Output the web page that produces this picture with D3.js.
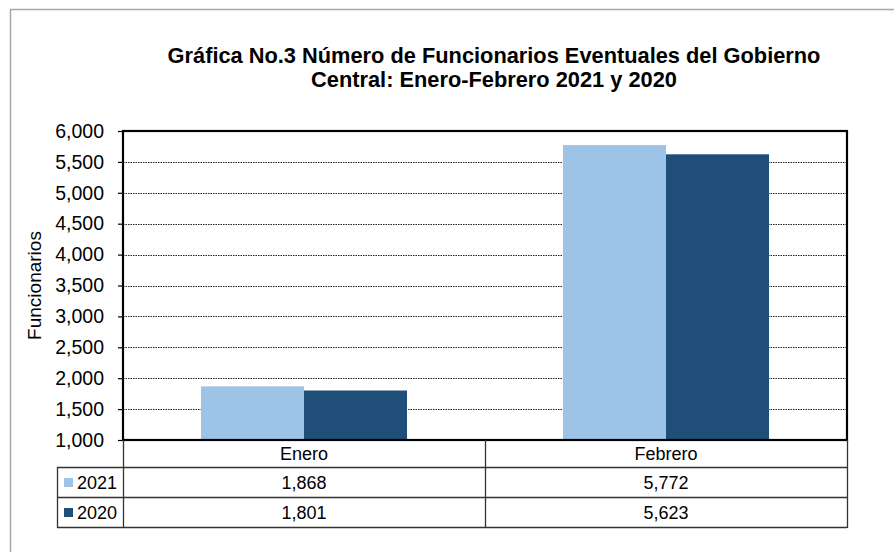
<!DOCTYPE html>
<html>
<head>
<meta charset="utf-8">
<script src="https://cdn.jsdelivr.net/npm/d3@7"></script>
<style>
  html, body { margin: 0; padding: 0; background: #fff; }
  svg { display: block; font-family: "Liberation Sans", Arial, sans-serif; }
</style>
</head>
<body>
<svg id="chart" width="894" height="552"></svg>
<script>
// ---- data ----
const titleLines = ["Gráfica No.3 Número de Funcionarios Eventuales del Gobierno", "Central: Enero-Febrero 2021 y 2020"];
const yAxisTitle = "Funcionarios";
const categories = ["Enero", "Febrero"];
const seriesNames = ["2021", "2020"];
const values2021 = [1868, 5772];
const values2020 = [1801, 5623];
const seriesColors = ["#9DC3E6", "#1F4E79"];
const yTicks = [1000, 1500, 2000, 2500, 3000, 3500, 4000, 4500, 5000, 5500, 6000];

const seriesValues = [values2021, values2020];

// ---- layout ----
const svg = d3.select("#chart");
const plot = { left: 123, right: 847, top: 131, bottom: 440 };
const tableRows = [440, 467, 497, 527];
const tableLeft = 57;

const x = d3.scaleBand().domain(categories).range([plot.left, plot.right]).padding(0);
const xs = d3.scaleBand().domain(seriesNames).range([0, x.bandwidth()]).paddingInner(0).paddingOuter(0.757);
const y = d3.scaleLinear().domain([1000, 6000]).range([plot.bottom, plot.top]);
const fmt = d3.format(",");

// outer border
svg.append("rect").attr("x", 10.5).attr("y", 9.5).attr("width", 1000).attr("height", 1000)
  .attr("fill", "none").attr("stroke", "#A6A6A6").attr("stroke-width", 1.5);

// title
svg.append("g").selectAll("text").data(titleLines).join("text")
  .attr("x", 494).attr("y", (d, i) => 63 + i * 24)
  .attr("text-anchor", "middle").attr("font-weight", "bold").attr("font-size", 21.8)
  .attr("fill", "#000").text(d => d);

// gridlines
svg.append("g").selectAll("line").data(yTicks.filter(t => t > 1000 && t < 6000)).join("line")
  .attr("x1", plot.left).attr("x2", plot.right)
  .attr("y1", d => Math.round(y(d)) + 0.5).attr("y2", d => Math.round(y(d)) + 0.5)
  .attr("stroke", "#222").attr("stroke-width", 1).attr("stroke-dasharray", "1.5,1");

// bars
const barG = svg.append("g");
seriesNames.forEach((s, si) => {
  barG.append("g").selectAll("rect").data(categories).join("rect")
    .attr("x", c => x(c) + xs(s))
    .attr("width", xs.bandwidth())
    .attr("y", (c, ci) => y(seriesValues[si][ci]))
    .attr("height", (c, ci) => y(1000) - y(seriesValues[si][ci]))
    .attr("fill", seriesColors[si]);
});

// y axis
const yAxis = d3.axisLeft(y).tickValues(yTicks).tickFormat(fmt).tickSize(5).tickPadding(14);
const yg = svg.append("g").attr("transform", `translate(${plot.left},0)`).call(yAxis);
yg.select(".domain").remove();
yg.selectAll(".tick line").attr("stroke", "#000").attr("stroke-width", 1.2);
yg.selectAll(".tick text").attr("font-size", 19.5).attr("fill", "#000")
  .attr("font-family", "'Liberation Sans', Arial, sans-serif");

// y axis title
svg.append("text")
  .attr("transform", `translate(41,${(plot.top + plot.bottom) / 2}) rotate(-90)`)
  .attr("text-anchor", "middle").attr("font-size", 19).attr("fill", "#000")
  .text(yAxisTitle);

// plot frame
svg.append("rect").attr("x", plot.left).attr("y", plot.top)
  .attr("width", plot.right - plot.left).attr("height", plot.bottom - plot.top)
  .attr("fill", "none").attr("stroke", "#000").attr("stroke-width", 2.2);

// data table
const tg = svg.append("g");
const lineColor = "#333";
tg.selectAll("line.h").data(tableRows.slice(1)).join("line")
  .attr("x1", tableLeft).attr("x2", plot.right)
  .attr("y1", d => d + 0.5).attr("y2", d => d + 0.5)
  .attr("stroke", lineColor).attr("stroke-width", 1.3);
const vlines = [plot.left, ...categories.slice(1).map(c => x(c)), plot.right];
tg.selectAll("line.v").data(vlines).join("line")
  .attr("x1", d => d + 0.5).attr("x2", d => d + 0.5)
  .attr("y1", tableRows[0]).attr("y2", tableRows[3] + 1)
  .attr("stroke", lineColor).attr("stroke-width", 1.3);
tg.append("line").attr("x1", tableLeft + 0.5).attr("x2", tableLeft + 0.5)
  .attr("y1", tableRows[1]).attr("y2", tableRows[3] + 1)
  .attr("stroke", lineColor).attr("stroke-width", 1.3);

tg.selectAll("text.cat").data(categories).join("text")
  .attr("x", c => x(c) + x.bandwidth() / 2).attr("y", 460)
  .attr("text-anchor", "middle").attr("font-size", 18).attr("fill", "#000")
  .text(c => c);

seriesNames.forEach((s, si) => {
  const rowTop = tableRows[si + 1];
  const rowBase = rowTop + 22;
  tg.append("rect").attr("x", 64).attr("y", rowTop + 11).attr("width", 9).attr("height", 9)
    .attr("fill", seriesColors[si]);
  tg.append("text").attr("x", 77).attr("y", rowBase).attr("font-size", 18).attr("fill", "#000").text(s);
  tg.selectAll(null).data(categories).join("text")
    .attr("x", c => x(c) + x.bandwidth() / 2).attr("y", rowBase)
    .attr("text-anchor", "middle").attr("font-size", 18).attr("fill", "#000")
    .text((c, ci) => fmt(seriesValues[si][ci]));
});
</script>
</body>
</html>
